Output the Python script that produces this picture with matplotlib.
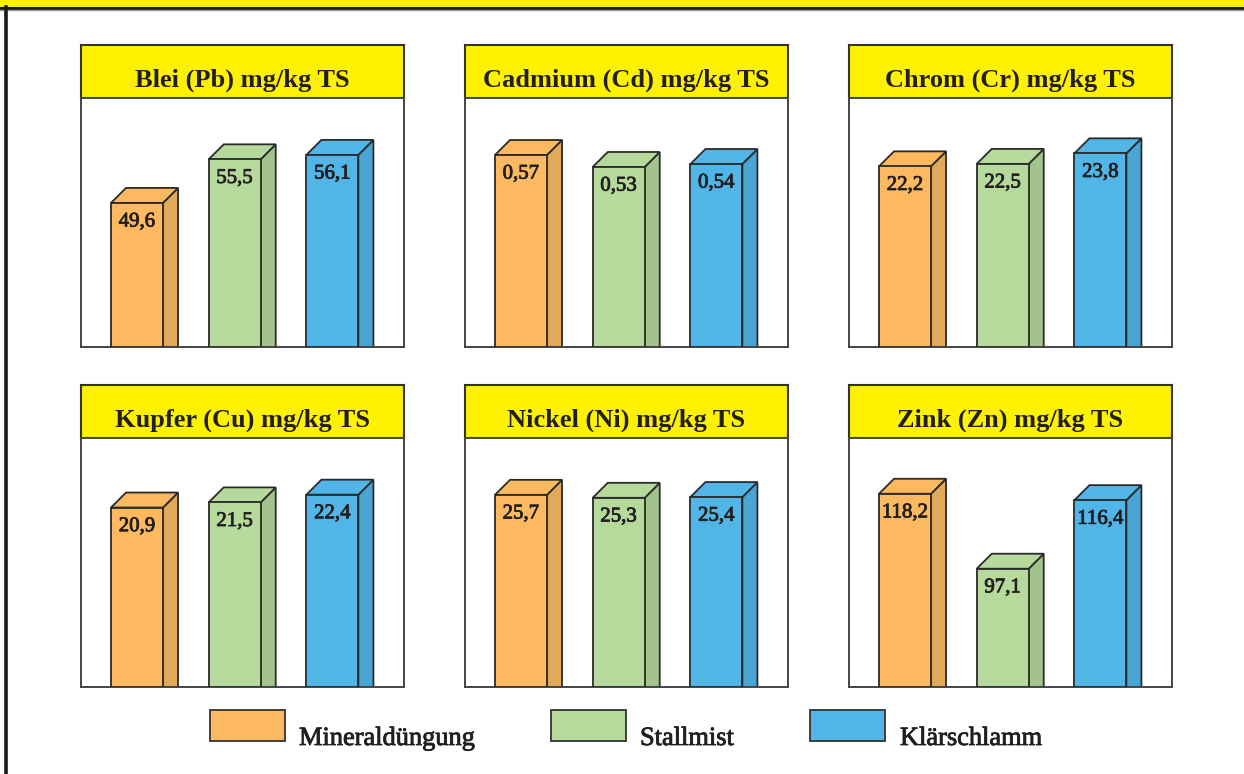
import matplotlib
matplotlib.use("Agg")
import matplotlib.pyplot as plt
from matplotlib.patches import Rectangle
from matplotlib.lines import Line2D
from matplotlib import patheffects

# --- data
groups = ["Mineraldüngung", "Stallmist", "Klärschlamm"]
titles = ["Blei (Pb) mg/kg TS", "Cadmium (Cd) mg/kg TS", "Chrom (Cr) mg/kg TS",
          "Kupfer (Cu) mg/kg TS", "Nickel (Ni) mg/kg TS", "Zink (Zn) mg/kg TS"]
pb = [49.6, 55.5, 56.1]
cd = [0.57, 0.53, 0.54]
cr = [22.2, 22.5, 23.8]
cu = [20.9, 21.5, 22.4]
ni = [25.7, 25.3, 25.4]
zn = [118.2, 97.1, 116.4]
values = [pb, cd, cr, cu, ni, zn]
# every panel has its own value range (baseline is not always 0 in the original)
ranges = [(30.1, 63.8), (-0.07, 0.76), (0, 30.6), (0, 29.0), (0, 33.3), (63.8, 133.9)]

front = ["#fdb95f", "#b6da9c", "#51b6e7"]
side = ["#e3a95a", "#a2c48b", "#48a5d4"]
edge = "#2b2b2b"
yellow = "#fff200"
txt = "#231f20"
serif = "Liberation Serif"

W, H = 1244, 774
fig = plt.figure(figsize=(W / 100, H / 100), dpi=100)
fig.patch.set_facecolor("white")

def fx(x):
    return x / W

def fy(y):
    return 1 - y / H

# top strip and left rule of the page
fig.add_artist(Rectangle((0, fy(7)), 1, 7 / H, transform=fig.transFigure,
                         facecolor=yellow, edgecolor="none"))
fig.add_artist(Line2D([0, 1], [fy(7.5), fy(7.5)], transform=fig.transFigure,
                      color="#1a1a1a", lw=2.2))
fig.add_artist(Line2D([0, 1], [fy(9.5), fy(9.5)], transform=fig.transFigure,
                      color="#9a9a9a", lw=1))
fig.add_artist(Line2D([fx(5.5), fx(5.5)], [fy(7), 0], transform=fig.transFigure,
                      color="#1a1a1a", lw=2.6))

col_x = [81, 465, 849]
panel_w = 323
title_top = [45, 385]
title_h = 53
plot_h = 249
bw = 0.532
dx = 0.154
depth_px = 15
thick = patheffects.withStroke(linewidth=0.6, foreground=txt)

for k in range(6):
    r, c = divmod(k, 3)
    x0 = col_x[c]
    t0 = title_top[r]
    p0 = t0 + title_h
    lo, hi = ranges[k]

    # title box
    tax = fig.add_axes([fx(x0), fy(p0), panel_w / W, title_h / H])
    tax.set_facecolor(yellow)
    tax.set_xticks([])
    tax.set_yticks([])
    for s in tax.spines.values():
        s.set_color("#333333")
        s.set_linewidth(1.5)
    tax.text(0.5, 11 / title_h, titles[k], ha="center", va="baseline",
             fontsize=19, fontweight="bold", family=serif, color=txt)

    # plot area
    ax = fig.add_axes([fx(x0), fy(p0 + plot_h), panel_w / W, plot_h / H])
    ax.set_xlim(-0.573, 2.733)
    ax.set_ylim(lo, hi)
    ax.set_xticks([])
    ax.set_yticks([])
    for s in ax.spines.values():
        s.set_color("#444444")
        s.set_linewidth(1.4)
    dy = depth_px / plot_h * (hi - lo)

    for i, v in enumerate(values[k]):
        left = i - bw / 2
        right = i + bw / 2
        ax.fill([right, right, right + dx, right + dx], [lo, v, v + dy, lo],
                facecolor=side[i], edgecolor=edge, lw=1.3, zorder=2)
        ax.fill([left, right, right + dx, left + dx], [v, v, v + dy, v + dy],
                facecolor=front[i], edgecolor=edge, lw=1.3, zorder=2)
        ax.bar(i, v - lo, width=bw, bottom=lo, color=front[i],
               edgecolor=edge, lw=1.3, zorder=3)
        ax.annotate(str(v).replace(".", ","), (i, v), xytext=(0, -17),
                    textcoords="offset points", ha="center", va="baseline",
                    fontsize=15, family=serif, color=txt, zorder=4,
                    path_effects=[thick])

# legend drawn by hand, spacing as in the original
leg_box_x = [210, 551, 810]
leg_txt_x = [299, 640, 900]
for i, name in enumerate(groups):
    fig.add_artist(Rectangle((fx(leg_box_x[i]), fy(741)), 75 / W, 31 / H,
                             transform=fig.transFigure, facecolor=front[i],
                             edgecolor="#333333", lw=1.3))
    fig.text(fx(leg_txt_x[i]), fy(745), name, ha="left", va="baseline",
             fontsize=19, family=serif, color=txt, path_effects=[thick])

fig.savefig("out.png", dpi=100)
